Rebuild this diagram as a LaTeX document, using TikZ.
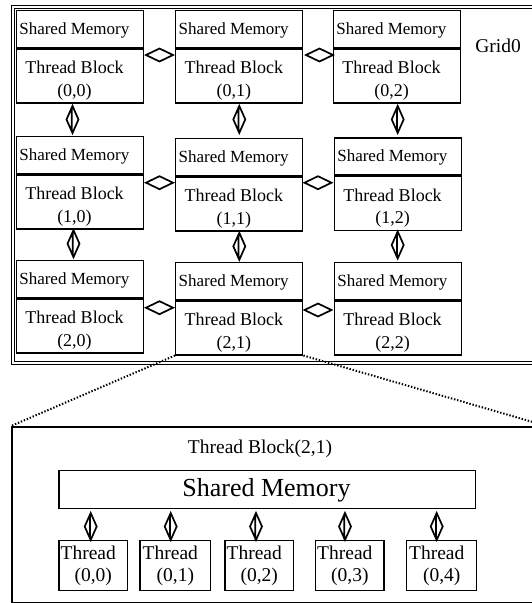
\documentclass[tikz,border=0pt]{standalone}
\usepackage{fontspec}
\setmainfont{Liberation Serif}
\usetikzlibrary{calc}
\tikzset{
 smbox/.style={draw, line width=1.4pt, minimum width=127pt, minimum height=37pt, inner sep=0pt, anchor=north west},
 tbbox/.style={draw, line width=1.4pt, minimum width=127pt, minimum height=54pt, inner sep=0pt, anchor=north west},
 smtxt/.style={inner sep=0pt, anchor=base, font=\fontsize{17}{20}\selectfont},
 tbtxt/.style={inner sep=0pt, align=center, font=\fontsize{18}{22.5}\selectfont},
 arw/.style={line width=1.7pt, line join=miter},
 vdia/.pic={\draw[arw] (0,-13.5) -- (6,0) -- (0,13.5) -- (-6,0) -- cycle (-0.8,-12.5) -- (-0.8,12.5);},
 hdia/.pic={\draw[arw] (-13.5,0) -- (0,-6.5) -- (13.5,0) -- (0,6.5) -- cycle;},
 thbox/.style={draw, line width=1.4pt, minimum height=50pt, inner sep=0pt, anchor=north west, align=center, font=\fontsize{19.5}{22.7}\selectfont},
 bigtxt/.style={inner sep=0pt, anchor=base, font=\fontsize{19.5}{23}\selectfont},
 dotline/.style={line width=2pt, dash pattern=on 1.4pt off 1.8pt},
}
\newcommand\mkblock[4]{%
 \node[smbox] (s#1) at (#2,#3) {};
 \node[tbbox] (b#1) at (s#1.south west) {};
 \node[smtxt] (st#1) at ($(s#1.north west)+(58.6,24.3)$) {Shared Memory};
 \node[tbtxt] (bt#1) at ($(s#1.north west)+(58.8,70.8)$) {Thread Block\\(#4)};
}
\begin{document}
\begin{tikzpicture}[x=1pt,y=-1pt]
\useasboundingbox (0,0) rectangle (532,603);
\clip (0,0) rectangle (532,603);
% grid frame
\node[draw, double, double distance=1.8pt, line width=1.2pt, minimum width=540pt, minimum height=356pt, inner sep=0pt, anchor=north west] (grid) at (12,6) {};
\node[bigtxt] (gridlbl) at (498,52) {Grid0};
% blocks
\mkblock{00}{15.7}{10}{0,0}
\mkblock{01}{175}{10}{0,1}
\mkblock{02}{332.7}{10}{0,2}
\mkblock{10}{15.7}{135.7}{1,0}
\mkblock{11}{175}{138}{1,1}
\mkblock{12}{333.7}{137.3}{1,2}
\mkblock{20}{15.7}{260}{2,0}
\mkblock{21}{175}{261.7}{2,1}
\mkblock{22}{333.7}{262}{2,2}
% horizontal connectors
\pic at (159.5,55) {hdia};
\pic at (319.5,55) {hdia};
\pic at (159.5,182.7) {hdia};
\pic at (318,182.7) {hdia};
\pic at (159.5,307.7) {hdia};
\pic at (318,310) {hdia};
% vertical connectors
\pic at (72.5,119.5) {vdia};
\pic at (239.3,119.4) {vdia};
\pic at (397.7,119.4) {vdia};
\pic at (73.5,243.7) {vdia};
\pic at (239.3,246.3) {vdia};
\pic at (397.7,245) {vdia};
% zoomed block
\node[draw, line width=1.6pt, minimum width=534pt, minimum height=176pt, inner sep=0pt, anchor=north west] (tb) at (11,426) {};
\draw[dotline] (b21.south west) -- (tb.north west);
\draw[dotline] (b21.south east) -- (tb.north east);
\node[bigtxt] (tblbl) at (260,453.3) {Thread Block(2,1)};
\node[draw, line width=1.4pt, minimum width=416.7pt, minimum height=37.7pt, inner sep=0pt, anchor=north west] (sm) at (58.3,470) {};
\node[inner sep=0pt, anchor=base, font=\fontsize{26}{30}\selectfont] (smtxt) at (266.5,496.7) {Shared Memory};
\node[thbox, minimum width=68.4pt] (t0) at (58.3,540) {\hspace*{-10pt}Thread\\(0,0)};
\node[thbox, minimum width=70.7pt] (t1) at (139.3,540) {\hspace*{-10pt}Thread\\(0,1)};
\node[thbox, minimum width=68.4pt] (t2) at (224.3,540) {\hspace*{-10pt}Thread\\(0,2)};
\node[thbox, minimum width=68.3pt] (t3) at (315,540) {\hspace*{-10pt}Thread\\(0,3)};
\node[thbox, minimum width=70pt] (t4) at (406,540) {\hspace*{-10pt}Thread\\(0,4)};
\pic at (90.7,526.5) {vdia};
\pic at (170.7,526.5) {vdia};
\pic at (256,526.5) {vdia};
\pic at (345,526.5) {vdia};
\pic at (436.7,526.5) {vdia};
\end{tikzpicture}
\end{document}
